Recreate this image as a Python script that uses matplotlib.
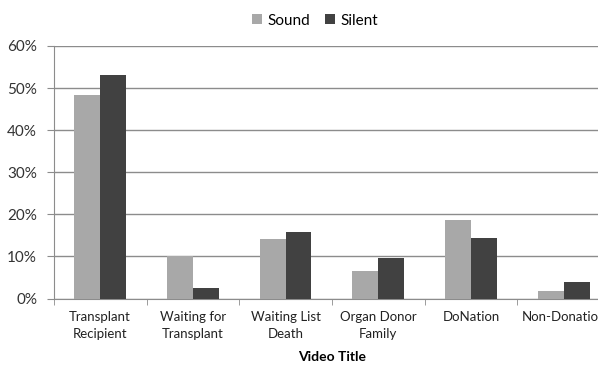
import numpy as np
import matplotlib.pyplot as plt

plt.rcParams['font.family'] = ['Lato', 'DejaVu Sans']

categories = ["Transplant\nRecipient", "Waiting for\nTransplant", "Waiting List\nDeath",
              "Organ Donor\nFamily", "DoNation", "Non-Donation"]
sound = [48.3, 10.0, 14.1, 6.5, 18.7, 1.7]
silent = [53.0, 2.4, 15.8, 9.7, 14.5, 4.0]
yticks = [0, 10, 20, 30, 40, 50, 60]

fig = plt.figure(figsize=(5.98, 3.65), dpi=100)
ax = fig.add_axes([0.090, 0.182, 0.930, 0.692])

x = np.arange(len(categories))
w = 0.28
ax.bar(x - w / 2, sound, w, color="#a8a8a8", label="Sound", zorder=3)
ax.bar(x + w / 2, silent, w, color="#414141", label="Silent", zorder=3)

ax.set_xlim(-0.5, len(categories) - 0.5)
ax.set_ylim(0, 60)
ax.set_yticks(yticks)
ax.set_yticklabels([f"{v}%" for v in yticks], fontsize=11, color="#333333")
ax.yaxis.grid(True, color="#8c8c8c", linewidth=1, zorder=0)

# category labels centred, tick marks at category boundaries
ax.set_xticks(x)
ax.set_xticklabels(categories, fontsize=9.5, color="#222222", linespacing=1.45)
ax.tick_params(axis="x", length=0, pad=9)
ax.set_xticks(np.arange(len(categories) + 1) - 0.5, minor=True)
ax.tick_params(axis="x", which="minor", length=4, color="#8c8c8c")
ax.tick_params(axis="y", length=5, color="#8c8c8c", pad=7)

for s in ["top", "right"]:
    ax.spines[s].set_visible(False)
for s in ["left", "bottom"]:
    ax.spines[s].set_color("#8c8c8c")

ax.set_xlabel("Video Title", fontsize=10, fontweight="bold", labelpad=8)

fig.legend(loc="upper center", bbox_to_anchor=(0.527, 1.0), ncol=2, frameon=False,
           fontsize=11, handlelength=0.65, handleheight=0.65, columnspacing=1.0,
           handletextpad=0.35)

fig.savefig("out.png", dpi=100)
